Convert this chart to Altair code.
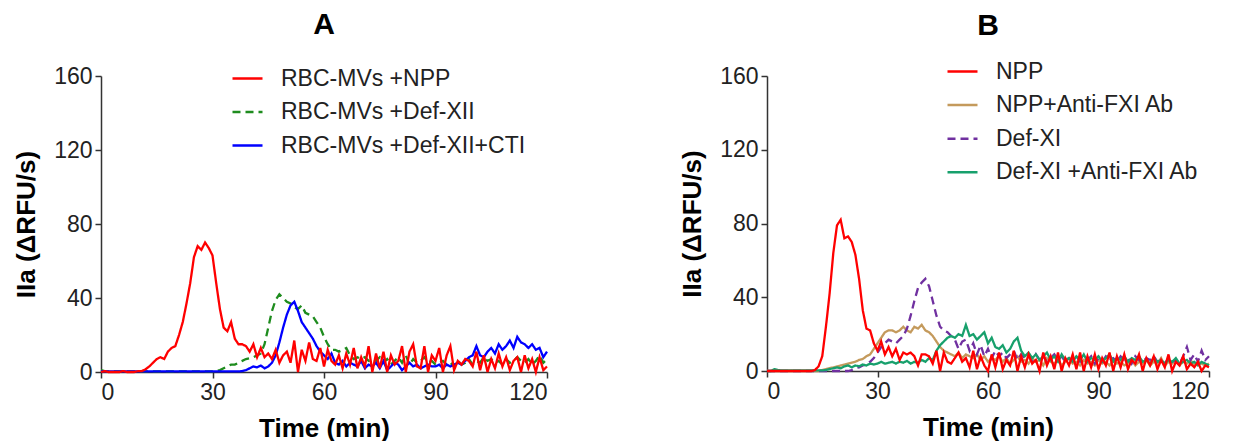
import altair as alt
import pandas as pd

# time in minutes (1-min reads)
time_min = list(range(0, 121))

# Panel A series
a_names = ["RBC-MVs +NPP", "RBC-MVs +Def-XII", "RBC-MVs +Def-XII+CTI"]
a_npp = [0, 0.5, 0, 0, 0, 0, 0.5, 0, 0, 0, 0.5,
         0.5, 1.5, 3, 5, 7, 8, 7, 11, 13, 14,
         20, 27, 37, 48, 62, 68, 66, 70, 67, 63,
         48, 34, 24, 22, 27, 18, 15, 15, 14, 11,
         15, 8, 13, 8, 10, 7, 12, 5, 9, 11,
         5, 17, 0, 12, 6, 16, 7, 6, 13, 3,
         12, 6, 4, 9, 2, 10, 4, 13, 2, 8,
         3, 14, 0, 10, 2, 11, 0, 9, 4, 6,
         14, 0, 11, 15, 3, 2, 14, 0, 9, 6,
         13, 0, 9, 14, 1, 6, 4, 7, 6, 3,
         11, 1, 9, 0, 7, 2, 10, 3, 8, 1,
         6, 8, 0, 9, 2, 7, 0, 8, 1, 3]
a_def12 = [1, 0.5, 0.3, 0.3, 0.3, 0.3, 0.3, 0.3, 0.3, 0.3, 0.3,
           0.3, 0.3, 0.3, 0.3, 0.3, 0.3, 0.3, 0.3, 0.3, 0.3,
           0.3, 0.3, 0.3, 0.3, 0.3, 0.3, 0.3, 0.3, 0.3, 0.3,
           0.5, 1, 2, 3, 4, 4, 5, 6, 7, 7.5,
           8, 9, 10, 15, 24, 33, 39, 42, 40, 38,
           37, 35, 34, 36, 32, 31, 30, 27, 24, 19,
           15, 12, 12, 11, 12, 13, 9, 7, 8, 7,
           8, 6, 7, 6, 8, 5, 7, 4, 6, 8,
           5, 9, 4, 7, 5, 6, 8, 5, 6, 4,
           5, 6, 4, 5, 3, 6, 4, 5, 7, 4,
           6, 5, 8, 6, 7, 5, 6, 4, 7, 5,
           6, 8, 6, 5, 7, 4, 6, 9, 5, 7]
a_cti = [0.3, 0.3, 0.3, 0.3, 0.3, 0.3, 0.3, 0.3, 0.3, 0.3, 0.3,
         0.3, 0.3, 0.3, 0.3, 0.3, 0.3, 0.3, 0.3, 0.3, 0.3,
         0.3, 0.3, 0.3, 0.3, 0.3, 0.3, 0.3, 0.3, 0.3, 0.3,
         0.3, 0.3, 0.3, 0.3, 0.3, 0.3, 0.3, 0.5, 1, 2,
         3, 2.5, 3.5, 2, 3, 5, 9, 16, 24, 31,
         36, 38, 33, 27, 24, 21, 18, 14, 11, 9,
         7, 10, 5, 4, 6, 3, 5, 4, 3, 6,
         2, 4, 3, 5, 2, 6, 1, 3, 5, 4,
         1, 3, 5, 3, 4, 2, 3, 4, 3, 3,
         4, 2, 4, 3, 4, 5, 4, 6, 8, 9,
         14, 9, 8, 11, 13, 10, 15, 12, 14, 17,
         13, 19, 16, 15, 13, 15, 12, 13, 8, 11]

# Panel B series
b_names = ["NPP", "NPP+Anti-FXI Ab", "Def-XI", "Def-XI +Anti-FXI Ab"]
b_npp = [0, 0, 0, 0, 0, 0, 0, 0, 0, 0, 0,
         0, 0, 0.5, 2.5, 8, 24, 42, 64, 79, 82,
         72, 73, 70, 63, 50, 33, 23, 22, 15, 11,
         16, 9, 13, 8, 12, 6, 10, 9, 10, 8,
         3, 9, 9, 8, 4, 11, 0, 10, 5, 4,
         7, 10, 5, 7, 2, 11, 1, 8, 3, 0,
         9, 2, 10, 1, 6, 3, 11, 0, 8, 2,
         9, 4, 6, 0, 10, 3, 8, 1, 10, 0,
         7, 3, 9, 1, 10, 0, 8, 2, 9, 1,
         7, 3, 10, 0, 8, 2, 9, 1, 6, 4,
         9, 0, 7, 3, 8, 1, 6, 2, 9, 0,
         5, 3, 8, 1, 4, 2, 5, 0, 3, 2]
b_npp_ab = [0, 0, 0, 0, 0, 0, 0, 0, 0, 0, 0,
            0, 0, 0, 0, 0.5, 1, 1.5, 2, 2.5, 3,
            3.5, 4, 4.5, 5, 6, 6.5, 8, 9, 12, 15,
            18, 21, 22, 22, 21, 22, 24, 22, 21, 24,
            23, 25, 22, 21, 19, 16, 13, 11, 10, 9,
            8, 10, 7, 9, 8, 7, 9, 6, 8, 5,
            7, 6, 8, 5, 7, 4, 6, 8, 5, 6,
            4, 7, 5, 6, 3, 7, 5, 4, 6, 3,
            5, 7, 4, 5, 3, 6, 4, 5, 3, 6,
            4, 5, 3, 6, 4, 5, 3, 4, 6, 3,
            5, 4, 6, 3, 5, 4, 7, 3, 5, 4,
            6, 3, 5, 4, 6, 3, 5, 4, 3, 4]
b_def11 = [0, 0, 0, 0, 0, 0, 0, 0, 0, 0, 0,
           0, 0, 0, 0, 0, 0, 0, 0, 0, 0,
           0, 0, 0.5, 1.5, 2, 3, 3.5, 5, 7, 10,
           13, 15, 17, 16, 15, 17, 19, 23, 30, 38,
           45, 48, 50, 46, 38, 30, 24, 22, 21, 19,
           17, 12, 16, 17, 11, 15, 9, 14, 8, 12,
           7, 11, 8, 10, 7, 9, 11, 6, 9, 7,
           8, 5, 9, 6, 8, 5, 7, 9, 6, 8,
           5, 7, 6, 8, 5, 7, 6, 8, 4, 7,
           5, 8, 6, 7, 5, 8, 6, 7, 4, 8,
           6, 5, 7, 6, 8, 5, 6, 4, 7, 5,
           6, 4, 8, 13, 6, 9, 5, 11, 6, 8]
b_def11_ab = [0, 0, 1, 0.5, 0.3, 0.3, 0.3, 0.3, 0.3, 0.3, 0.3,
              0.3, 0.3, 0.3, 0.3, 0.3, 0.5, 1, 1.5, 2, 1.5,
              2.5, 3, 2, 3, 2.5, 3.5, 3, 4, 3.5, 4,
              5, 4, 4.5, 5, 4, 5, 4.5, 5.5, 4, 5,
              4.5, 6, 5, 7, 6, 11, 14, 16, 18, 19,
              18, 20, 19, 25, 19, 20, 17, 19, 21, 15,
              18, 13, 12, 14, 10, 12, 16, 18, 11, 8,
              10, 7, 9, 6, 8, 10, 6, 8, 5, 9,
              6, 7, 5, 8, 6, 9, 5, 7, 6, 8,
              5, 7, 9, 5, 7, 6, 8, 5, 7, 6,
              8, 5, 6, 4, 7, 5, 6, 4, 6, 5,
              7, 4, 5, 6, 4, 5, 3, 5, 4, 3]

a_colors = ["#FF0000", "#1E8C1E", "#0000FF"]
a_dashes = [[1, 0], [8, 5], [1, 0]]
b_colors = ["#FF0000", "#C49A5C", "#7030A0", "#17A06C"]
b_dashes = [[1, 0], [1, 0], [8, 5], [1, 0]]

FONT = "Liberation Sans"


def long_df(names, series, draw_order):
    rows = []
    for idx in draw_order:
        for t, v in zip(time_min, series[idx]):
            rows.append({"t": t, "v": v, "s": names[idx]})
    return pd.DataFrame(rows)


df_a = long_df(a_names, [a_npp, a_def12, a_cti], [1, 2, 0])
df_b = long_df(b_names, [b_npp, b_npp_ab, b_def11, b_def11_ab], [1, 2, 3, 0])


def panel(df, names, colors, dashes, title, w, h, lx, ly, rowpad, toff):
    legend = alt.Legend(
        title=None, orient="none", legendX=lx, legendY=ly,
        symbolType="stroke", symbolSize=900, symbolStrokeWidth=2.5,
        labelFontSize=23, labelFont=FONT, labelColor="#222", labelLimit=500,
        labelOffset=17, rowPadding=rowpad, padding=0,
    )
    return alt.Chart(df, title=alt.TitleParams(
        title, fontSize=30, font=FONT, fontWeight="bold", anchor="middle",
        color="#000", offset=toff)).mark_line(strokeWidth=2.3).encode(
        x=alt.X("t:Q", title="Time (min)",
                scale=alt.Scale(domain=[0, 120], nice=False),
                axis=alt.Axis(values=[0, 30, 60, 90, 120])),
        y=alt.Y("v:Q", title="IIa (ΔRFU/s)",
                scale=alt.Scale(domain=[0, 160], nice=False),
                axis=alt.Axis(values=[0, 40, 80, 120, 160])),
        color=alt.Color("s:N", scale=alt.Scale(domain=names, range=colors),
                        legend=legend),
        strokeDash=alt.StrokeDash("s:N", scale=alt.Scale(domain=names, range=dashes),
                                  legend=legend),
        detail="s:N",
    ).properties(width=w, height=h)


pa = panel(df_a, a_names, a_colors, a_dashes, "A", 446, 296, 130, -14, 4.5, 22)
pb = panel(df_b, b_names, b_colors, b_dashes, "B", 442, 295, 179, -21, 4.6, 14)

chart = alt.hconcat(pa, pb, spacing=127).resolve_scale(
    color="independent", strokeDash="independent"
).resolve_legend(color="independent", strokeDash="independent").configure_view(
    stroke=None).configure_axis(
    grid=False, domainColor="#333", domainWidth=1.5, tickColor="#333", tickWidth=1.5,
    tickSize=6, labelFontSize=23, labelFont=FONT, labelColor="#222", labelPadding=3,
    titleFontSize=26, titleFont=FONT, titleFontWeight="bold", titleColor="#000",
).configure_axisX(titlePadding=11).configure_axisY(titlePadding=14).properties(
    padding={"left": 5, "top": 2, "right": 0, "bottom": 0})

chart.save("out.html", embed_options={"renderer": "svg", "actions": False})
